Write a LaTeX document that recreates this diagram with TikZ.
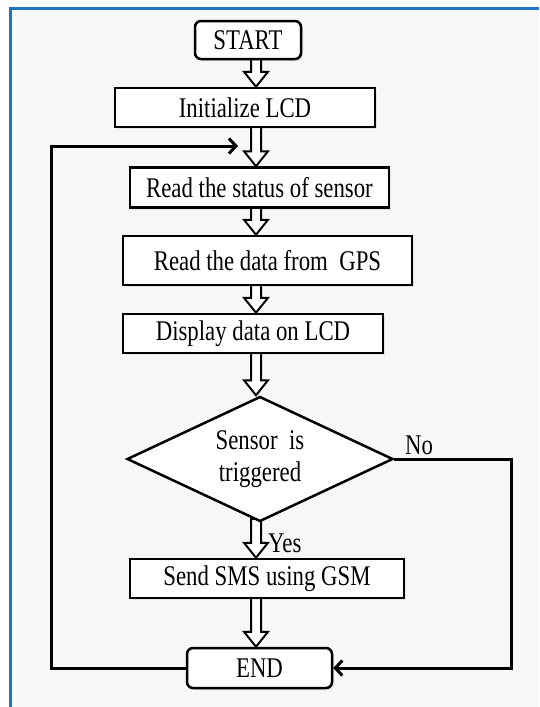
\documentclass[tikz,border=0pt]{standalone}
\usepackage{fontspec}
\setmainfont{Liberation Serif}[FakeStretch=0.8]
\usetikzlibrary{shapes.geometric,arrows.meta,calc,shadows}
\definecolor{frameblue}{HTML}{1E74C6}
\definecolor{bggray}{HTML}{F7F7F7}
\pgfdeclarelayer{bg}
\pgfsetlayers{bg,main}
\newcommand\hollowarrow[2]{%
  \draw[harrow] let \p1=(#1.south), \p2=(#2.north) in
    (251pt,\y1+4pt) -- (251pt,\y2+15pt) -- (244pt,\y2+15pt) -- (256pt,\y2)
    -- (268pt,\y2+15pt) -- (261pt,\y2+15pt) -- (261pt,\y1+4pt) -- cycle;}
\begin{document}
\begin{tikzpicture}[x=1pt,y=-1pt,
  txt/.style={font=\fontsize{28.5}{32}\selectfont},
  box/.style={txt, draw, line width=2.5pt, fill=white, minimum height=39pt, inner sep=0pt,
    drop shadow={opacity=0.15, shadow xshift=2pt, shadow yshift=-2pt}},
  term/.style={box, rounded corners=6pt},
  harrow/.style={draw, line width=2pt, fill=white, line join=miter},
  loopline/.style={line width=3pt, -{Straight Barb[length=7pt,width=15pt]}},
  lbl/.style={txt, inner sep=0pt},
]
\useasboundingbox (0,0) rectangle (539,707);

\node[term, minimum width=106pt, minimum height=38pt] (start) at (248,40) {START};
\node[box, minimum width=260pt] (init) at (245,107.5) {Initialize LCD};
\node[box, minimum width=259pt, minimum height=40pt] (read) at (259.5,187.5) {Read the status of sensor};
\node[box, minimum width=289pt, minimum height=49pt] (gps) at (267.5,260.5) {Read the data from\ \ GPS};
\node[box, minimum width=260pt] (disp) at (253,333.5) {Display data on LCD};
\node[txt, diamond, draw, line width=2.5pt, fill=white, minimum width=266pt, minimum height=125pt,
  inner sep=0pt, aspect=2.1, align=center] (dec) at (260,459) {Sensor~ is\\triggered};
\node[box, minimum width=274pt] (sms) at (267,578.5) {Send SMS using GSM};
\node[term, minimum width=145pt, minimum height=40pt] (end) at (259.5,668) {END};

\node[lbl, anchor=base west] (no) at (405,454) {No};
\node[lbl, anchor=base west] (yes) at (268,552) {Yes};

\begin{pgfonlayer}{bg}
  \fill[white] (0,0) rectangle (539,707);
  \fill[bggray] (10,8) rectangle (539,707);
  \hollowarrow{start}{init}
  \hollowarrow{init}{read}
  \hollowarrow{read}{gps}
  \hollowarrow{gps}{disp}
  \hollowarrow{disp}{dec}
  \hollowarrow{dec}{sms}
  \hollowarrow{sms}{end}
\end{pgfonlayer}

\coordinate (loopin) at (238,146);
\draw[loopline] (end.west) -- ++(-134,0) |- (loopin);
\draw[loopline] (dec.east) -- ++(117,0) |- (end.east);

\draw[frameblue, line width=3pt] (10,707) -- (10,8) -- (539,8);
\end{tikzpicture}
\end{document}
